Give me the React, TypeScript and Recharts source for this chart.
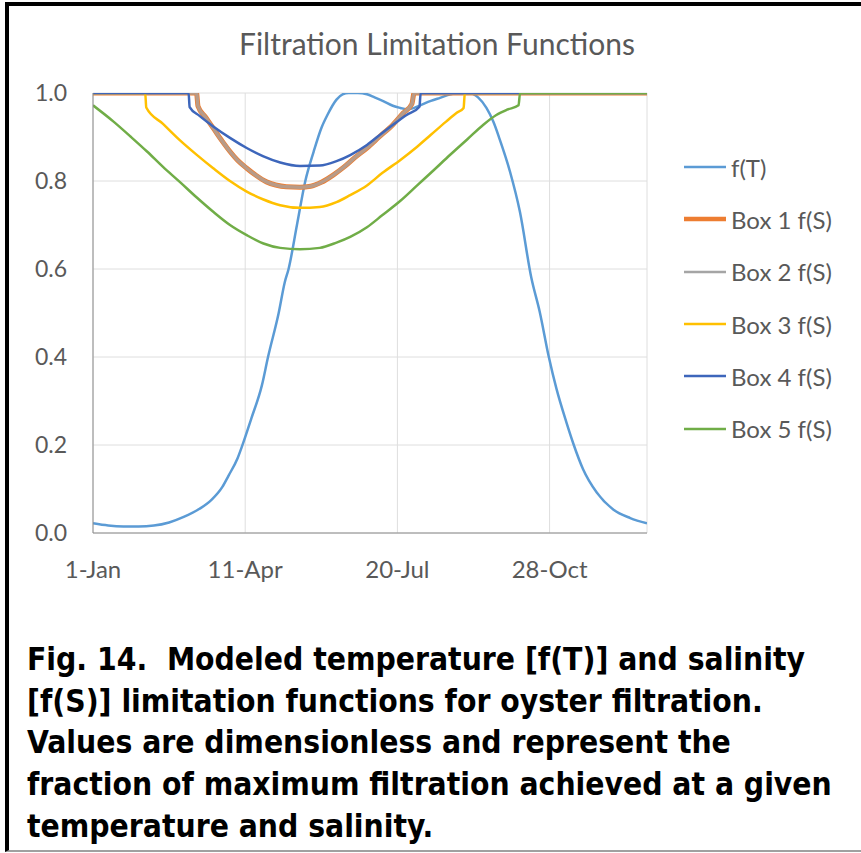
import { LineChart, Line, XAxis, YAxis, CartesianGrid, Legend } from 'recharts'

// x = day of year (0 = 1-Jan), y = limitation value (dimensionless)
const dayTicks = [0, 100, 200, 300]
const dayLabels = ['1-Jan', '11-Apr', '20-Jul', '28-Oct']
const valueTicks = [0, 0.2, 0.4, 0.6, 0.8, 1.0]

const fT: [number, number][] = [
  [0, 0.022], [10, 0.017], [20, 0.015], [30, 0.015], [40, 0.017], [50, 0.024],
  [60, 0.037], [70, 0.055], [78, 0.076], [85, 0.105], [89, 0.13], [95, 0.17],
  [98, 0.198], [104, 0.26], [111, 0.336], [115, 0.4], [122, 0.5], [126, 0.57],
  [128.5, 0.6], [134, 0.7], [139.5, 0.8], [145, 0.867], [150, 0.92], [154, 0.95],
  [160, 0.985], [164, 0.997], [168, 1.0], [174, 1.0], [180, 0.997], [185, 0.99],
  [191, 0.981], [197, 0.971], [202, 0.966], [206, 0.963], [210, 0.965], [215, 0.972],
  [222, 0.982], [228, 0.989], [235, 0.997], [240, 1.0], [247, 1.0], [253, 0.99],
  [258.5, 0.966], [263, 0.935], [267, 0.897], [274, 0.821], [280.5, 0.73], [288, 0.58],
  [293.5, 0.503], [299.5, 0.4], [304.5, 0.328], [311, 0.252], [315.5, 0.204], [322, 0.145],
  [331, 0.092], [342, 0.053], [353, 0.034], [364, 0.022],
]

const box1: [number, number][] = [
  [0, 1.0], [68, 1.0], [69, 0.97], [74, 0.945], [79, 0.92], [85, 0.89], [90, 0.867],
  [95, 0.847], [101, 0.829], [107, 0.813], [114, 0.798], [120, 0.791], [127, 0.787],
  [136, 0.786], [143, 0.788], [150, 0.797], [158, 0.814], [165, 0.832], [172, 0.853],
  [180, 0.875], [188, 0.9], [197, 0.928], [204, 0.955], [209.5, 0.975], [211, 1.0], [364, 1.0],
]

// Box 2 lies exactly on Box 1
const box2: [number, number][] = box1

const box3: [number, number][] = [
  [0, 1.0], [34.3, 1.0], [35, 0.967], [46, 0.93], [57, 0.893], [68, 0.86], [79, 0.829],
  [90, 0.8], [101, 0.776], [112, 0.758], [123, 0.745], [136, 0.739], [149, 0.741],
  [160, 0.752], [169, 0.768], [180, 0.79], [190, 0.818], [202, 0.848], [213, 0.878],
  [222, 0.905], [232, 0.935], [239, 0.955], [243.5, 0.966], [244.3, 1.0], [364, 1.0],
]

const box4: [number, number][] = [
  [0, 1.0], [62.8, 1.0], [63.5, 0.968], [70, 0.948], [79, 0.924], [90, 0.898],
  [101, 0.875], [112, 0.856], [123, 0.842], [136, 0.834], [149, 0.835], [160, 0.845],
  [169, 0.859], [180, 0.882], [190, 0.909], [198, 0.93], [206, 0.95], [214.5, 0.969],
  [215.3, 1.0], [364, 1.0],
]

const box5: [number, number][] = [
  [0, 0.972], [13.5, 0.935], [25, 0.9], [35.5, 0.867], [46, 0.832], [57, 0.798],
  [68, 0.763], [79, 0.73], [90, 0.7], [101, 0.677], [112, 0.658], [123, 0.648],
  [136, 0.645], [149, 0.648], [160, 0.66], [169, 0.673], [180, 0.695], [190, 0.722],
  [202, 0.755], [213, 0.79], [224, 0.825], [234.5, 0.859], [246, 0.895], [256.5, 0.928],
  [265, 0.95], [272, 0.962], [279.6, 0.972], [280.6, 1.0], [364, 1.0],
]

const series = [
  { name: 'f(T)', points: fT, color: '#5b9bd5', width: 2.5, opacity: 1 },
  { name: 'Box 1 f(S)', points: box1, color: '#ed7d31', width: 5, opacity: 1 },
  { name: 'Box 2 f(S)', points: box2, color: '#a5a5a5', width: 3.5, opacity: 0.75 },
  { name: 'Box 3 f(S)', points: box3, color: '#ffc000', width: 2.5, opacity: 1 },
  { name: 'Box 4 f(S)', points: box4, color: '#3d66bb', width: 2.5, opacity: 1 },
  { name: 'Box 5 f(S)', points: box5, color: '#70ad47', width: 2.5, opacity: 1 },
]

const toRows = (pts: [number, number][]) => pts.map(([day, value]) => ({ day, value }))

const textGray = '#595959'
const borderGray = '#8c8c8c'
const font = 'Lato, "Open Sans", sans-serif'

function LegendBox() {
  return (
    <div style={{ fontFamily: font, fontSize: 24, color: textGray }}>
      {series.map((s) => (
        <div key={s.name} style={{ height: 52.3, display: 'flex', alignItems: 'center' }}>
          <svg width={44} height={10} style={{ marginRight: 3 }}>
            <line x1={0} y1={5} x2={42} y2={5} stroke={s.color} strokeWidth={s.name === 'Box 1 f(S)' ? 4.5 : 2.5} />
          </svg>
          <span>{s.name}</span>
        </div>
      ))}
    </div>
  )
}

export default function App() {
  return (
    <div
      style={{
        position: 'absolute',
        left: 0,
        top: 0,
        width: 861,
        height: 853,
        background: '#fff',
        overflow: 'hidden',
      }}
    >
      <div
        style={{
          position: 'absolute',
          left: 5,
          top: 2,
          width: 856,
          height: 850,
          boxSizing: 'border-box',
          borderTop: '4px solid #000',
          borderLeft: '4px solid #000',
          borderBottom: '2px solid #a0a0a0',
        }}
      />
      <div
        style={{
          position: 'absolute',
          left: 0,
          top: 25,
          width: 874,
          textAlign: 'center',
          fontFamily: font,
          fontSize: 30,
          color: textGray,
        }}
      >
        Filtration Limitation Functions
      </div>
      <div style={{ position: 'absolute', left: 0, top: 0 }}>
        <LineChart width={861} height={600} margin={{ top: 93, right: 214, left: 33, bottom: 27 }}>
          <CartesianGrid stroke="#dedede" strokeWidth={1} />
          <XAxis
            dataKey="day"
            type="number"
            domain={[0, 364]}
            ticks={dayTicks}
            tickFormatter={(v: number) => dayLabels[dayTicks.indexOf(v)] ?? ''}
            allowDataOverflow
            height={40}
            tickLine={false}
            tickSize={0}
            tickMargin={28}
            axisLine={{ stroke: borderGray }}
            tick={{ fill: textGray, fontSize: 24, fontFamily: font }}
          />
          <XAxis
            xAxisId="top"
            orientation="top"
            type="number"
            domain={[0, 364]}
            height={0}
            tick={false}
            tickLine={false}
            axisLine={{ stroke: borderGray }}
          />
          <YAxis
            type="number"
            domain={[0, 1]}
            ticks={valueTicks}
            allowDataOverflow
            tickFormatter={(v: number) => v.toFixed(1)}
            width={60}
            tickLine={false}
            tickSize={0}
            tickMargin={26}
            axisLine={{ stroke: borderGray }}
            tick={{ fill: textGray, fontSize: 23, fontFamily: font }}
          />
          <YAxis
            yAxisId="right"
            orientation="right"
            type="number"
            domain={[0, 1]}
            width={0}
            tick={false}
            tickLine={false}
            axisLine={{ stroke: borderGray }}
          />
          <Legend
            layout="vertical"
            align="center"
            verticalAlign="middle"
            content={() => <LegendBox />}
            wrapperStyle={{ position: 'absolute', left: 684, top: 141, width: 175 }}
          />
          {series.map((s) => (
            <Line
              key={s.name}
              name={s.name}
              data={toRows(s.points)}
              dataKey="value"
              type="monotone"
              stroke={s.color}
              strokeWidth={s.width}
              strokeOpacity={s.opacity}
              dot={false}
              activeDot={false}
              isAnimationActive={false}
            />
          ))}
        </LineChart>
      </div>
      <div
        style={{
          position: 'absolute',
          left: 27,
          top: 639,
          width: 834,
          fontFamily: '"DejaVu Sans Condensed", sans-serif',
          fontWeight: 'bold',
          fontSize: 31.5,
          lineHeight: '41.7px',
          color: '#000',
        }}
      >
        <div>Fig. 14.&nbsp; Modeled temperature [f(T)] and salinity</div>
        <div>[f(S)] limitation functions for oyster filtration.</div>
        <div>Values are dimensionless and represent the</div>
        <div>fraction of maximum filtration achieved at a given</div>
        <div>temperature and salinity.</div>
      </div>
    </div>
  )
}
